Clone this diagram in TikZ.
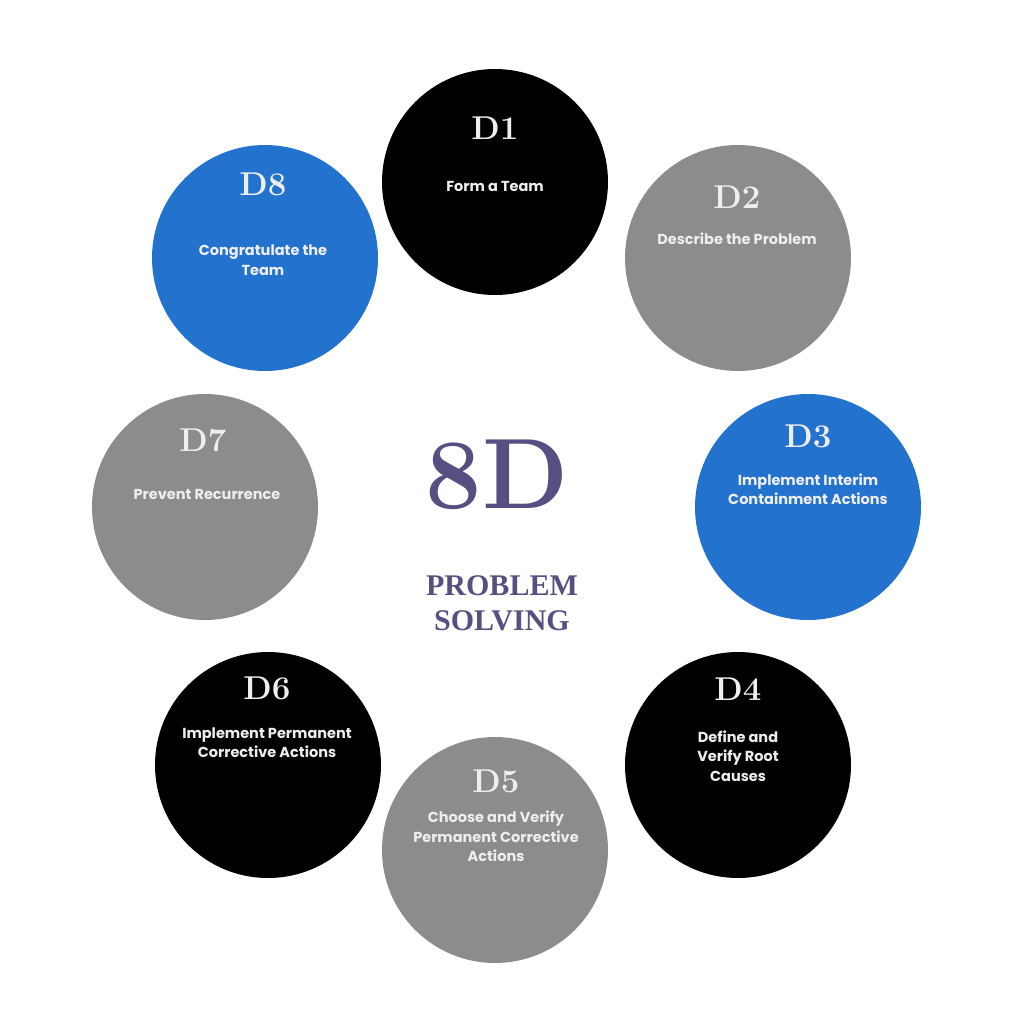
\documentclass[tikz,border=0pt]{standalone}
\usepackage{fontspec}
\newfontfamily\bodyfont{Poppins}
\newfontfamily\probfont{Liberation Serif}
\definecolor{gry}{HTML}{8C8C8C}
\definecolor{blu}{HTML}{2373CE}
\definecolor{txt}{HTML}{EEEEEE}
\definecolor{purp}{HTML}{565082}
\tikzset{
  disc/.style={circle, minimum size=226pt, inner sep=0pt},
  dlabel/.style={text=txt, inner sep=0pt, font=\bfseries\fontsize{33}{33}\selectfont},
  body/.style={text=txt, inner sep=0pt, align=center, font=\bodyfont\bfseries\fontsize{14.5}{19.5}\selectfont},
}
\begin{document}
\begin{tikzpicture}[x=1pt,y=-1pt]
\useasboundingbox (0,0) rectangle (1013,1013);
% circles
\node[disc, fill=black] (c1) at (495,182) {};
\node[disc, fill=gry]   (c2) at (738,258) {};
\node[disc, fill=blu]   (c3) at (808,507) {};
\node[disc, fill=black] (c4) at (738,765) {};
\node[disc, fill=gry]   (c5) at (495,850) {};
\node[disc, fill=black] (c6) at (268,765) {};
\node[disc, fill=gry]   (c7) at (205,507) {};
\node[disc, fill=blu]   (c8) at (265,258) {};
% labels
\node[dlabel] (d1) at (495,128) {D1};
\node[body]   (t1) at (495,186) {Form a Team};
\node[dlabel] (d2) at (737,197) {D2};
\node[body]   (t2) at (737,239) {Describe the Problem};
\node[dlabel] (d3) at (808,436) {D3};
\node[body]   (t3) at (808,489) {Implement Interim\\Containment Actions};
\node[dlabel] (d4) at (738,689) {D4};
\node[body]   (t4) at (738,756) {Define and\\Verify Root\\Causes};
\node[dlabel] (d5) at (496,781) {D5};
\node[body]   (t5) at (496,836.5) {Choose and Verify\\Permanent Corrective\\Actions};
\node[dlabel] (d6) at (267,688) {D6};
\node[body]   (t6) at (267,742.5) {Implement Permanent\\Corrective Actions};
\node[dlabel] (d7) at (203,440) {D7};
\node[body]   (t7) at (207,494) {Prevent Recurrence};
\node[dlabel] (d8) at (263,184) {D8};
\node[body]   (t8) at (263,260) {Congratulate the\\Team};
% center
\node[text=purp, inner sep=0pt, font=\bfseries\fontsize{100}{100}\selectfont] (big) at (497,475) {8D};
\node[text=purp, inner sep=0pt, align=center, font=\probfont\bfseries\fontsize{30}{35}\selectfont] (ps) at (502,603) {PROBLEM\\SOLVING};
\end{tikzpicture}
\end{document}
